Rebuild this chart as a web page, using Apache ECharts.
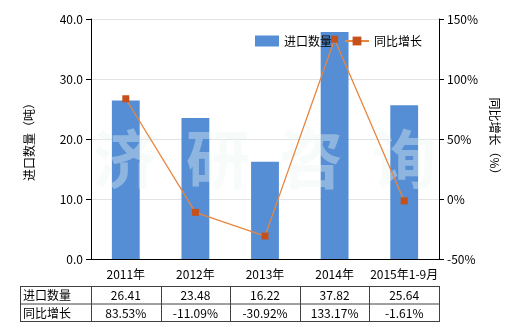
<!DOCTYPE html>
<html><head><meta charset="utf-8">
<script src="https://cdn.jsdelivr.net/npm/echarts@6/dist/echarts.min.js"></script>
<style>html,body{margin:0;padding:0;background:#fff}#c{width:520px;height:330px}</style>
</head><body><div id="c"></div>
<script>
var categories = ['2011年','2012年','2013年','2014年','2015年1-9月'];
var importQty = [26.41, 23.48, 16.22, 37.82, 25.64];
var yoyGrowth = [83.53, -11.09, -30.92, 133.17, -1.61];
var qtyLabels = ['26.41','23.48','16.22','37.82','25.64'];
var yoyLabels = ['83.53%','-11.09%','-30.92%','133.17%','-1.61%'];
var seriesNames = ['进口数量','同比增长'];

var FONT = '"Microsoft YaHei","Noto Sans CJK SC",sans-serif';
var gl = 91, gr = 439, gt = 19, gb = 259;
var cw = (gr - gl) / categories.length;
var tTop = 286, tMid = 303.5, tBot = 321, tLeft = 20;

var graphics = [];
graphics.push({type:'text', left: 93, top: 127, z: 3, silent: true,
  style:{text:'济  研  咨  询', font:'bold 64px ' + FONT, fill:'rgba(235,245,240,0.38)'}});
var lineStyle = {stroke:'#404040', lineWidth:1};
[tTop, tMid, tBot].forEach(function(y){
  graphics.push({type:'line', shape:{x1:tLeft, y1:y+0.5, x2:gr, y2:y+0.5}, style:lineStyle});
});
var xs = [tLeft, gl];
for (var i = 1; i <= categories.length; i++) xs.push(gl + cw * i);
xs.forEach(function(x){
  x = Math.round(x) + 0.5;
  graphics.push({type:'line', shape:{x1:x, y1:tTop, x2:x, y2:tBot+1}, style:lineStyle});
});
var rows = [[seriesNames[0], qtyLabels], [seriesNames[1], yoyLabels]];
var rowCenters = [(tTop + tMid)/2 + 1, (tMid + tBot)/2 + 1];
rows.forEach(function(r, ri){
  graphics.push({type:'text', x: tLeft + 3, y: rowCenters[ri],
    style:{text:r[0], font:'12px ' + FONT, fill:'#000', textVerticalAlign:'middle', verticalAlign:'middle'}});
  r[1].forEach(function(v, ci){
    graphics.push({type:'text', x: gl + cw*(ci+0.5), y: rowCenters[ri],
      style:{text:v, font:'12px ' + FONT, fill:'#000', align:'center', textAlign:'center', verticalAlign:'middle', textVerticalAlign:'middle'}});
  });
});

var chart = echarts.init(document.getElementById('c'), null, {renderer:'canvas'});
chart.setOption({
  animation:false,
  textStyle:{fontFamily:FONT},
  grid:{left:gl, right:520-gr, top:gt, bottom:330-gb, containLabel:false},
  legend:{left:250, top:30, itemWidth:24, itemHeight:11, itemGap:12,
    textStyle:{fontSize:12, color:'#000', fontFamily:FONT},
    data:[{name:seriesNames[0], icon:'rect'}, {name:seriesNames[1]}]},
  xAxis:{type:'category', data:categories,
    axisLine:{lineStyle:{color:'#000'}},
    axisTick:{alignWithLabel:true, length:5, lineStyle:{color:'#000'}},
    axisLabel:{color:'#000', fontSize:12, margin:9, interval:0}},
  yAxis:[
    {type:'value', min:0, max:40, interval:10, name:'进口数量（吨）', nameLocation:'middle', nameGap:56, nameRotate:90,
     nameTextStyle:{fontSize:12, color:'#000'},
     axisLine:{show:true, lineStyle:{color:'#000'}},
     axisTick:{show:true, length:5, lineStyle:{color:'#000'}},
     axisLabel:{color:'#000', fontSize:12, formatter:function(v){return v.toFixed(1);}},
     splitLine:{lineStyle:{color:'#e3e3e3'}}},
    {type:'value', min:-50, max:150, interval:50, name:'同比增长（%）', nameLocation:'middle', nameGap:44, nameRotate:-90,
     nameTextStyle:{fontSize:12, color:'#000'},
     axisLine:{show:true, lineStyle:{color:'#000'}},
     axisTick:{show:true, length:5, lineStyle:{color:'#000'}},
     axisLabel:{color:'#000', fontSize:12, formatter:'{value}%'},
     splitLine:{show:false}}
  ],
  series:[
    {name:seriesNames[0], type:'bar', data:importQty, barWidth:'40%', itemStyle:{color:'#558ed5'}, z:2},
    {name:seriesNames[1], type:'line', yAxisIndex:1, data:yoyGrowth, symbol:'rect', symbolSize:7,
     lineStyle:{color:'#e8853e', width:1.3}, itemStyle:{color:'#c5501a'}, z:5}
  ],
  graphic:graphics
});
</script></body></html>
